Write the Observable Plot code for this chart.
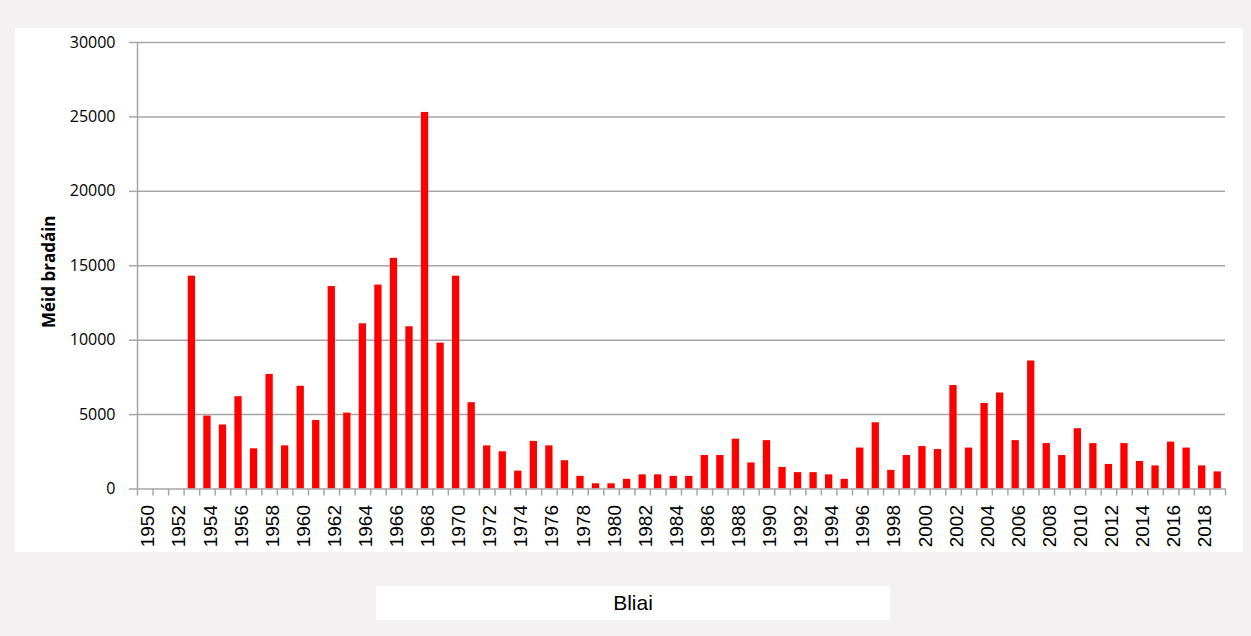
<!DOCTYPE html>
<html><head><meta charset="utf-8">
<script src="https://cdn.jsdelivr.net/npm/d3@7"></script>
<script src="https://cdn.jsdelivr.net/npm/@observablehq/plot@0.6"></script>
<style>
html,body{margin:0;padding:0;background:#f3f1f2;width:1251px;height:636px;overflow:hidden;position:relative}
#panel{position:absolute;left:15px;top:28px;width:1228px;height:524px;background:#fff}
#chart{position:absolute;left:0;top:0}
#xtitle{position:absolute;left:376px;top:586px;width:514px;height:34px;background:#fff;font:21px "Liberation Sans",Arial,sans-serif;display:flex;align-items:center;justify-content:center;color:#000}
</style></head>
<body>
<div id="panel"></div>
<div id="chart"></div>
<div id="xtitle"></div>
<script>
const years = [1950,1951,1952,1953,1954,1955,1956,1957,1958,1959,
  1960,1961,1962,1963,1964,1965,1966,1967,1968,1969,
  1970,1971,1972,1973,1974,1975,1976,1977,1978,1979,
  1980,1981,1982,1983,1984,1985,1986,1987,1988,1989,
  1990,1991,1992,1993,1994,1995,1996,1997,1998,1999,
  2000,2001,2002,2003,2004,2005,2006,2007,2008,2009,
  2010,2011,2012,2013,2014,2015,2016,2017,2018,2019];
const salmon = [null,null,null,14300,4900,4300,6200,2700,7700,2900,
  6900,4600,13600,5100,11100,13700,15500,10900,25300,9800,
  14300,5800,2900,2500,1200,3200,2900,1900,850,350,
  350,650,950,950,850,850,2250,2250,3350,1750,
  3250,1450,1100,1100,950,650,2750,4450,1250,2250,
  2850,2650,6950,2750,5750,6450,3250,8600,3050,2250,
  4050,3050,1650,3050,1850,1550,3150,2750,1550,1150];
const yTicks = [0,5000,10000,15000,20000,25000,30000];
const xTickLabels = [1950,1952,1954,1956,1958,1960,1962,1964,1966,1968,1970,1972,1974,1976,1978,1980,1982,1984,1986,1988,1990,1992,1994,1996,1998,2000,2002,2004,2006,2008,2010,2012,2014,2016,2018];
const yTitle = "Méid bradáin";
const xTitle = "Bliai";

document.getElementById("xtitle").textContent = xTitle;

const data = years.map((year, i) => ({year, value: salmon[i]})).filter(d => d.value != null);
const W = 1251, H = 560, mL = 137, mR = 26, mT = 42, mB = 71.5;
const step = (W - mL - mR) / years.length;
const grid = "#a6a6a6";
const plain = d => String(d);

const chart = Plot.plot({
  width: W, height: H,
  marginLeft: mL, marginRight: mR, marginTop: mT, marginBottom: mB,
  style: {background: "transparent", overflow: "visible"},
  x: {type: "band", domain: years, paddingInner: 0.53, paddingOuter: 0.265, axis: null},
  y: {domain: [0, 30000], axis: null},
  marks: [
    Plot.gridY(yTicks.filter(t => t > 0), {stroke: grid, strokeOpacity: 1, strokeWidth: 1.5}),
    Plot.barY(data, {x: "year", y: "value", fill: "#ff0000"}),
    Plot.ruleY([0], {stroke: grid, strokeWidth: 1.5}),
    Plot.ruleX([years[0]], {y1: 0, y2: 30000, dx: -step / 2, stroke: grid, strokeWidth: 1.5}),
    Plot.axisY({ticks: yTicks, tickFormat: plain, tickSize: 8, tickPadding: 14, stroke: grid, strokeWidth: 1.5, fill: "#000",
      fontSize: 16, fontFamily: "Open Sans", label: null}),
    Plot.axisX({ticks: years, tickSize: 7, tickFormat: () => "", dx: -step / 2, stroke: grid, strokeWidth: 1.5, label: null}),
    Plot.axisX({ticks: [years[years.length - 1]], tickSize: 7, tickFormat: () => "", dx: step / 2, stroke: grid, strokeWidth: 1.5, label: null}),
    Plot.text(xTickLabels, {x: d => d, text: plain, frameAnchor: "bottom", rotate: -90, textAnchor: "end",
      lineAnchor: "middle", dy: 16, dx: 3, fontSize: 19, fontFamily: "Liberation Sans", fill: "#000"}),
    Plot.text([yTitle], {frameAnchor: "left", textAnchor: "middle", dx: -88, dy: 6, rotate: -90, fontWeight: "bold",
      fontSize: 17, fontFamily: "Open Sans", fill: "#000"})
  ]
});
document.getElementById("chart").appendChild(chart);
</script>
</body></html>
